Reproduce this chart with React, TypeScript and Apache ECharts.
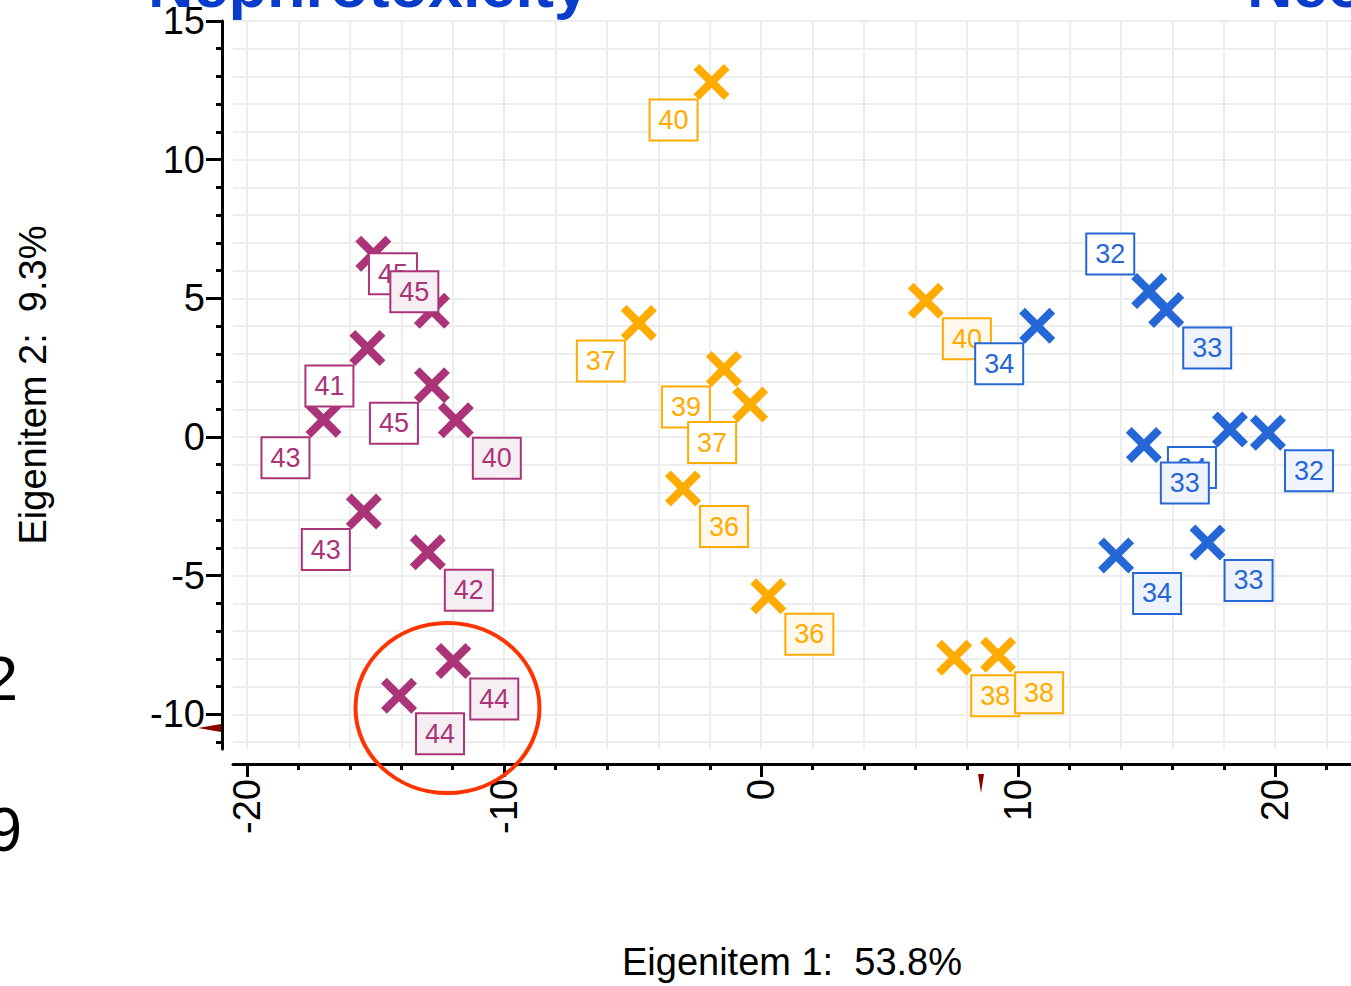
import React, { useEffect, useRef } from 'react';
import * as echarts from 'echarts';

// ---- axes ----
const X_MIN = -20.55;
const X_MAX = 22.95;
const Y_MIN = -11.25;
const Y_MAX = 15;
const X_MAJOR_TICKS = [-20, -10, 0, 10, 20];
const X_MINOR_TICKS = [-20, -18, -16, -14, -12, -10, -8, -6, -4, -2, 0, 2, 4, 6, 8, 10, 12, 14, 16, 18, 20, 22];
const Y_MAJOR_TICKS = [-10, -5, 0, 5, 10, 15];
const Y_MINOR_TICKS = [-11, -10, -9, -8, -7, -6, -5, -4, -3, -2, -1, 0, 1, 2, 3, 4, 5, 6, 7, 8, 9, 10, 11, 12, 13, 14, 15];
const X_NAME = 'Eigenitem 1:  53.8%';
const Y_NAME = 'Eigenitem 2:  9.3%';

// ---- HD group (magenta) ----
const HD_X = [-12.81, -15.09, -15.32, -17.03, -12.81, -11.88, -15.46, -12.97, -11.98, -14.09];
const HD_Y = [4.55, 6.61, 3.21, 0.62, 1.87, 0.6, -2.69, -4.16, -8.08, -9.33];
const HD_LABELS = ['45', '45', '41', '43', '45', '40', '43', '42', '44', '44'];
const HD_PLACE = ['tl', 'br', 'bl', 'bl', 'bl', 'br', 'bl', 'br', 'br', 'br'];

// ---- LD group (orange) ----
const LD_X = [-4.76, -1.45, -0.43, -3.04, 0.28, -1.93, 6.41, 7.51, 9.22];
const LD_Y = [4.11, 2.45, 1.17, -1.86, -5.74, 12.8, 4.91, -7.96, -7.85];
const LD_LABELS = ['37', '39', '37', '36', '36', '40', '40', '38', '38'];
const LD_PLACE = ['bl', 'bl', 'bl', 'br', 'br', 'bl', 'br', 'br', 'br'];

// ---- V group (blue) ----
const V_X = [10.74, 15.1, 15.76, 18.24, 14.89, 19.72, 13.81, 17.37];
const V_Y = [4.01, 5.26, 4.58, 0.27, -0.29, 0.15, -4.27, -3.8];
const V_LABELS = ['34', '32', '33', '34', '33', '32', '34', '33'];
const V_PLACE = ['bl', 'tl', 'br', 'bl', 'br', 'br', 'br', 'br'];

// ---- group annotations ----
const ANNOT_TEXT = ['HD', 'LD', 'V'];
const ANNOT_X = [-15.56, 0.12, 14.05];
const ANNOT_Y = [11.07, 6.78, 4.02];

const FONT = '"Liberation Sans", Arial, Helvetica, sans-serif';
const LABEL_FONT = '"Liberation Sans Narrow", "Liberation Sans", Arial, sans-serif';
const X_PATH = 'path://M0,16L16,0L50,34L84,0L100,16L66,50L100,84L84,100L50,66L16,100L0,84L34,50Z';
const OFFSETS: Record<string, number[]> = { br: [41, 38], bl: [-38, 38], tl: [-39, -37] };

function makeSeries(name: string, xs: number[], ys: number[], labels: string[], places: string[], color: string, tint: string) {
  return {
    type: 'scatter',
    name,
    symbol: X_PATH,
    symbolSize: 36,
    silent: true,
    itemStyle: { color, opacity: 1 },
    label: {
      show: true,
      position: 'inside',
      formatter: '{b}',
      color,
      fontFamily: LABEL_FONT,
      fontSize: 27,
      width: 46,
      height: 39,
      lineHeight: 39,
      align: 'center',
      verticalAlign: 'middle',
      borderColor: color,
      borderWidth: 2,
      padding: 0,
      backgroundColor: '#ffffff',
    },
    data: xs.map((x, i) => ({
      value: [x, ys[i]],
      name: labels[i],
      label: {
        offset: OFFSETS[places[i]],
        backgroundColor: places[i] === 'br' ? tint : '#ffffff',
      },
    })),
  };
}

export default function App() {
  const ref = useRef<HTMLDivElement>(null);
  useEffect(() => {
    if (!ref.current) return;
    const chart = echarts.init(ref.current, undefined, { renderer: 'svg' });
    const axisText = { color: '#000', fontFamily: FONT, fontSize: 38 };
    chart.setOption({
      animation: false,
      backgroundColor: '#ffffff',
      grid: { left: 233, right: 0, top: 21, bottom: 227, containLabel: false },
      xAxis: [
        {
          type: 'value', min: X_MIN, max: X_MAX, position: 'bottom', offset: 15,
          axisLine: { show: true, onZero: false, lineStyle: { color: '#000', width: 3 } },
          axisTick: { show: true, customValues: X_MAJOR_TICKS, length: 13, lineStyle: { color: '#000', width: 3 } },
          axisLabel: { show: true, customValues: X_MAJOR_TICKS, rotate: 90, margin: 15, ...axisText },
          splitLine: { show: false },
          name: X_NAME, nameLocation: 'middle', nameGap: 179,
          nameTextStyle: { ...axisText },
        },
        {
          type: 'value', min: X_MIN, max: X_MAX, position: 'bottom', offset: 15,
          axisLine: { show: false, onZero: false },
          axisTick: { show: true, customValues: X_MINOR_TICKS, length: 6, lineStyle: { color: '#000', width: 3 } },
          axisLabel: { show: false },
          splitLine: { show: true, lineStyle: { color: '#ededed', width: 2 } },
        },
      ],
      yAxis: [
        {
          type: 'value', min: Y_MIN, max: Y_MAX, position: 'left', offset: 11,
          axisLine: { show: true, onZero: false, lineStyle: { color: '#000', width: 3 } },
          axisTick: { show: true, customValues: Y_MAJOR_TICKS, length: 16, lineStyle: { color: '#000', width: 3 } },
          axisLabel: { show: true, customValues: Y_MAJOR_TICKS, margin: 17, ...axisText },
          splitLine: { show: false },
          name: Y_NAME, nameLocation: 'middle', nameGap: 170, nameRotate: 90,
          nameTextStyle: { ...axisText },
        },
        {
          type: 'value', min: Y_MIN, max: Y_MAX, position: 'left', offset: 11,
          axisLine: { show: false, onZero: false },
          axisTick: { show: true, customValues: Y_MINOR_TICKS, length: 6, lineStyle: { color: '#000', width: 3 } },
          axisLabel: { show: false },
          splitLine: { show: true, lineStyle: { color: '#ededed', width: 2 } },
        },
      ],
      series: [
        makeSeries('HD', HD_X, HD_Y, HD_LABELS, HD_PLACE, '#ab3479', '#f5eef3'),
        makeSeries('LD', LD_X, LD_Y, LD_LABELS, LD_PLACE, '#ffab00', '#fff8ec'),
        makeSeries('V', V_X, V_Y, V_LABELS, V_PLACE, '#2667d8', '#eef3fc'),
        {
          type: 'scatter',
          symbolSize: 1,
          silent: true,
          itemStyle: { opacity: 0 },
          label: {
            show: true, position: 'inside', formatter: '{b}',
            color: '#000', fontFamily: FONT, fontSize: 62,
          },
          data: ANNOT_TEXT.map((t, i) => ({ value: [ANNOT_X[i], ANNOT_Y[i]], name: t })),
        },
      ],
      graphic: [
        {
          type: 'text', x: 148, y: -15, silent: true,
          style: { text: 'Nephrotoxicity', font: `bold 63px ${FONT}`, fill: '#0a3ccc', verticalAlign: 'middle' },
        },
        {
          type: 'text', x: 1247, y: -15, silent: true,
          style: { text: 'Neo', font: `bold 63px ${FONT}`, fill: '#0a3ccc', verticalAlign: 'middle' },
        },
        {
          type: 'text', x: 18, y: 678, silent: true,
          style: { text: '2', font: `63px ${FONT}`, fill: '#000', align: 'right', verticalAlign: 'middle' },
        },
        {
          type: 'text', x: 22, y: 829, silent: true,
          style: { text: '9', font: `63px ${FONT}`, fill: '#000', align: 'right', verticalAlign: 'middle' },
        },
        {
          type: 'ellipse', silent: true, z: 100,
          shape: { cx: 447.5, cy: 708, rx: 92, ry: 85 },
          style: { fill: 'none', stroke: '#ff3300', lineWidth: 4 },
        },
        {
          type: 'polygon', silent: true, z: 100,
          shape: { points: [[198, 728], [221, 724], [221, 732]] },
          style: { fill: '#8b0000' },
        },
        {
          type: 'polygon', silent: true, z: 100,
          shape: { points: [[978, 774], [984, 774], [981, 793]] },
          style: { fill: '#8b0000' },
        },
      ],
    });
    return () => chart.dispose();
  }, []);
  return <div ref={ref} style={{ position: 'absolute', left: 0, top: 0, width: 1351, height: 986 }} />;
}
